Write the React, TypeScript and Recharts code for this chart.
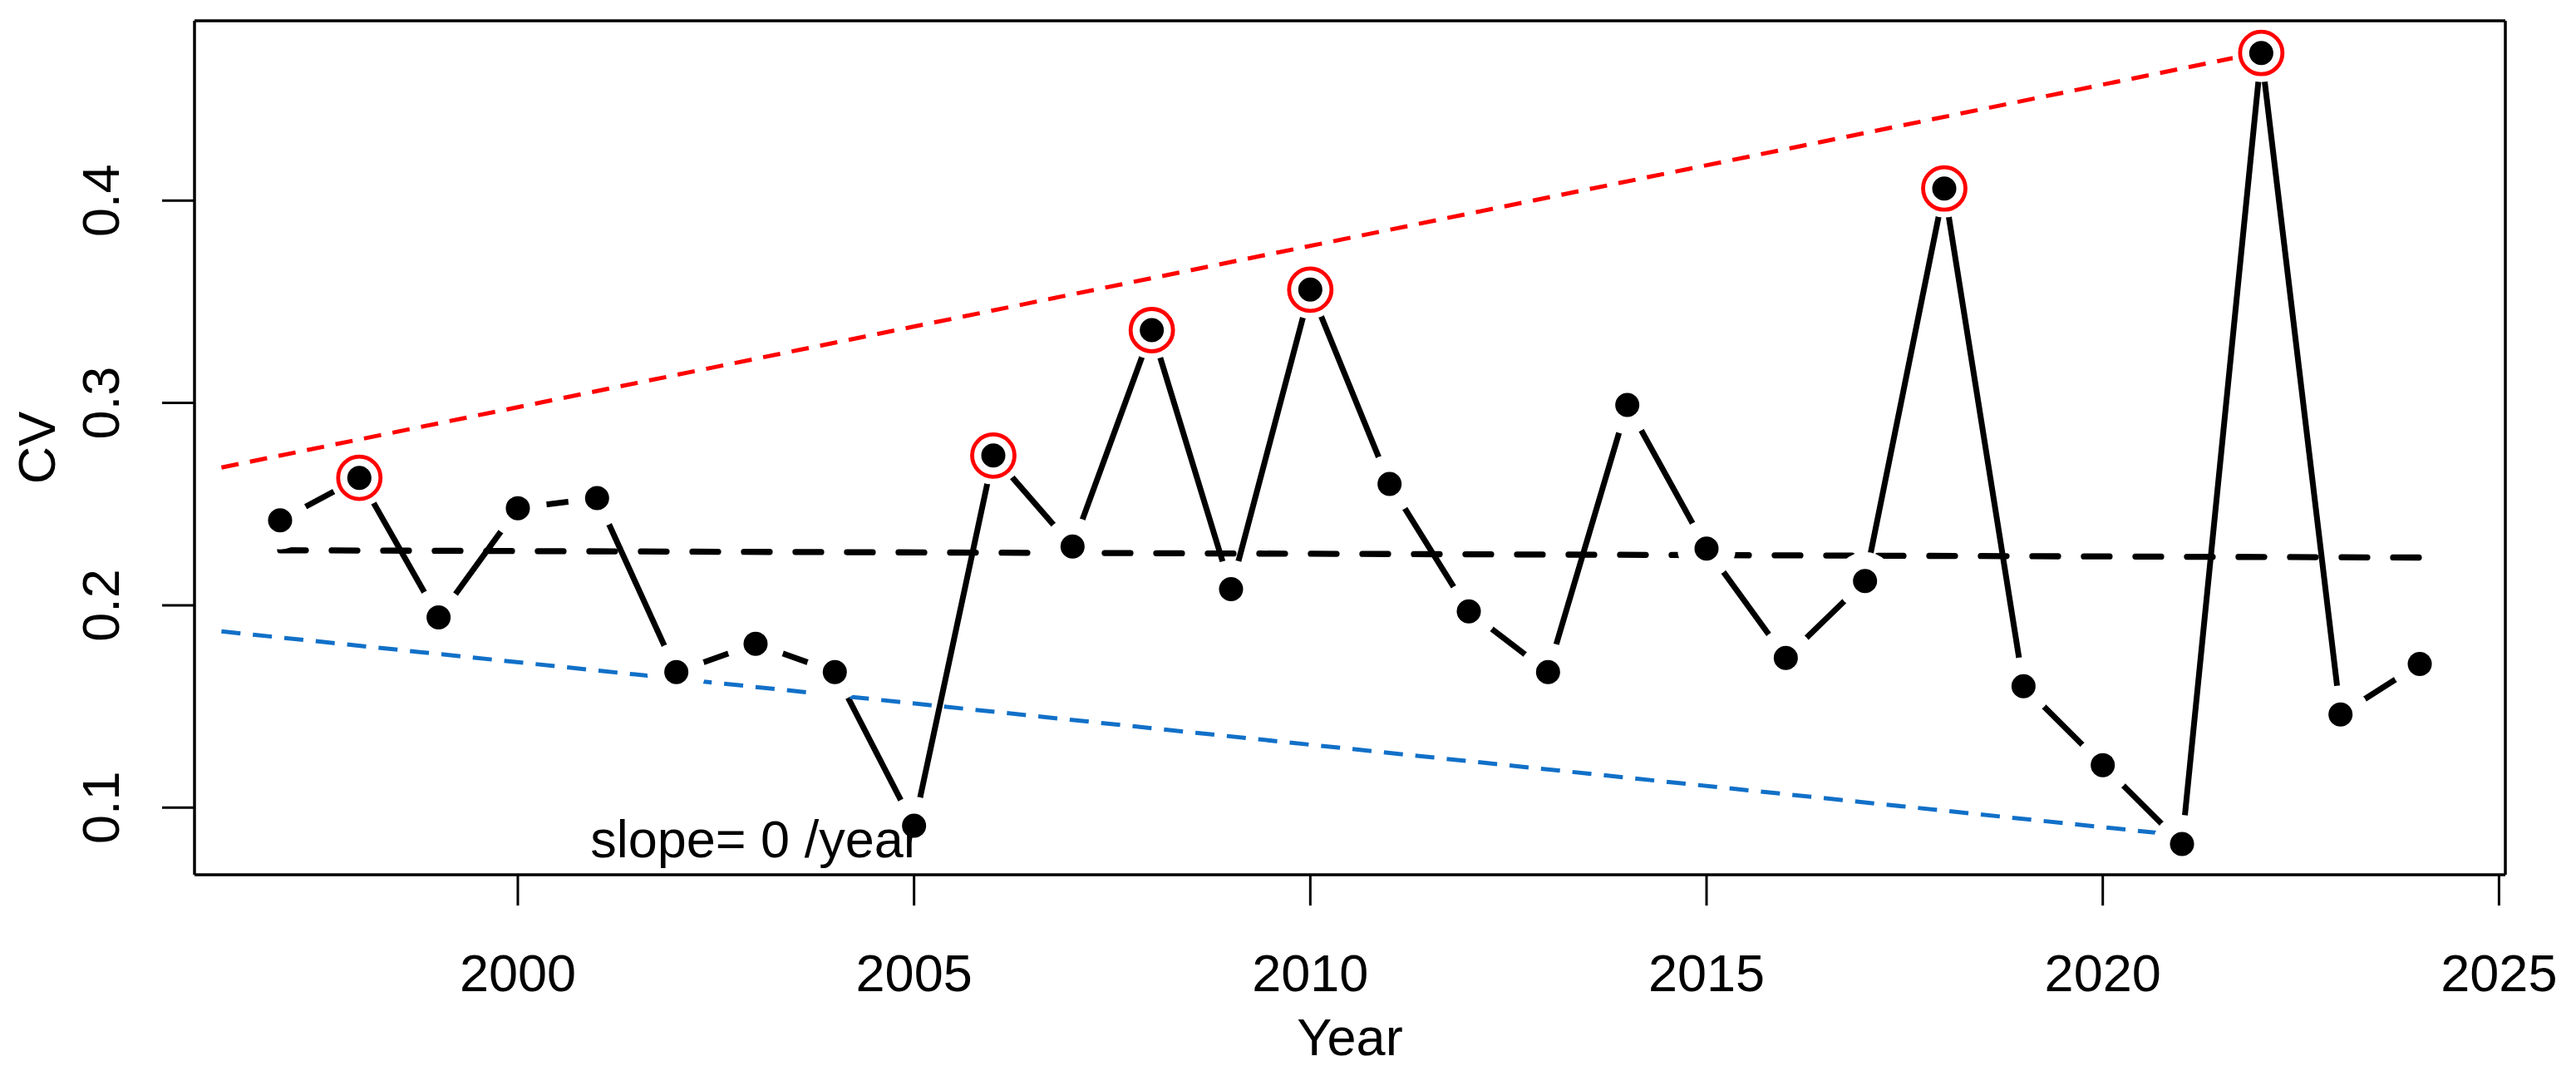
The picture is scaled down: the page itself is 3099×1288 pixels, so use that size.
import React from "react";
import { ComposedChart, Line, XAxis, YAxis, ReferenceDot } from "recharts";

const years = [1997, 1998, 1999, 2000, 2001, 2002, 2003, 2004, 2005, 2006, 2007, 2008, 2009, 2010, 2011, 2012, 2013, 2014, 2015, 2016, 2017, 2018, 2019, 2020, 2021, 2022, 2023, 2024];
const cvValues = [0.242, 0.263, 0.194, 0.248, 0.253, 0.167, 0.181, 0.167, 0.091, 0.274, 0.229, 0.336, 0.208, 0.356, 0.260, 0.197, 0.167, 0.299, 0.228, 0.174, 0.212, 0.406, 0.160, 0.121, 0.082, 0.473, 0.146, 0.171];
const peakYears = [1998, 2006, 2008, 2010, 2018, 2022];

const meanTrendYears = [1997, 2024];
const meanTrendValues = [0.2272, 0.2236];
const upperTrendYears = [1996.26, 2022.15];
const upperTrendValues = [0.2681, 0.4745];
const lowerTrendYears = [1996.26, 2020.84];
const lowerTrendValues = [0.1871, 0.0869];

const xTicks = [2000, 2005, 2010, 2015, 2020, 2025];
const yTicks = [0.1, 0.2, 0.3, 0.4];
const xDomain = [1995.92, 2025.08];
const yDomain = [0.0668, 0.4889];

const slopeText = "slope= 0 /year";
const slopeTextYear = 2003;
const slopeTextValue = 0.0832;

const data = years.map((y, i) => ({ year: y, cv: cvValues[i] }));
const peaks = peakYears.map((y) => ({ year: y, v: cvValues[years.indexOf(y)] }));
const mkLine = (xs: number[], vs: number[]) => xs.map((x, i) => ({ year: x, v: vs[i] }));
const meanLine = mkLine(meanTrendYears, meanTrendValues);
const upperLine = mkLine(upperTrendYears, upperTrendValues);
const lowerLine = mkLine(lowerTrendYears, lowerTrendValues);

const FONT = "'Liberation Sans', Arial, Helvetica, sans-serif";
const FS = 63;

const XTick = (props: any) => {
  const { x, y, payload } = props;
  return (
    <text x={x} y={y + 103} textAnchor="middle" fontFamily={FONT} fontSize={FS} fill="#000">
      {payload.value}
    </text>
  );
};

const YTick = (props: any) => {
  const { x, y, payload } = props;
  const tx = x - 52;
  return (
    <text x={tx} y={y} transform={`rotate(-90 ${tx} ${y})`} textAnchor="middle" fontFamily={FONT} fontSize={FS} fill="#000">
      {Number(payload.value).toFixed(1)}
    </text>
  );
};

const DataDot = (props: any) => {
  const { cx, cy, index } = props;
  if (cx == null || cy == null) return <g key={`d${index}`} />;
  return (
    <g key={`d${index}`}>
      <circle cx={cx} cy={cy} r={35} fill="#fff" stroke="none" />
      <circle cx={cx} cy={cy} r={14.5} fill="#000" stroke="none" />
    </g>
  );
};

const PeakDot = (props: any) => {
  const { cx, cy, index } = props;
  if (cx == null || cy == null) return <g key={`p${index}`} />;
  return <circle key={`p${index}`} cx={cx} cy={cy} r={25.5} fill="none" stroke="#FF0000" strokeWidth={4.8} />;
};

export default function App() {
  return (
    <div style={{ width: 3099, height: 1288, background: "#fff" }}>
      <style>{"body{margin:0;background:#fff}"}</style>
      <ComposedChart
        width={3099}
        height={1288}
        data={data}
        margin={{ top: 24, right: 84, bottom: 235, left: 233 }}
      >
        <XAxis
          xAxisId="b"
          dataKey="year"
          type="number"
          domain={xDomain}
          allowDataOverflow
          ticks={xTicks}
          interval={0}
          height={1}
          tickSize={37}
          tickMargin={0}
          tick={<XTick />}
          axisLine={{ stroke: "#000", strokeWidth: 3.5 }}
          tickLine={{ stroke: "#000", strokeWidth: 3 }}
          label={{
            content: (p: any) => {
              const vb = p.viewBox || {};
              return (
                <text x={vb.x + vb.width / 2} y={vb.y + 217} textAnchor="middle" fontFamily={FONT} fontSize={FS} fill="#000">
                  Year
                </text>
              );
            },
          }}
        />
        <XAxis
          xAxisId="t"
          orientation="top"
          dataKey="year"
          type="number"
          domain={xDomain}
          allowDataOverflow
          height={1}
          tick={false}
          tickLine={false}
          axisLine={{ stroke: "#000", strokeWidth: 3.5 }}
        />
        <YAxis
          yAxisId="l"
          type="number"
          domain={yDomain}
          allowDataOverflow
          ticks={yTicks}
          interval={0}
          width={1}
          tickSize={39}
          tickMargin={0}
          tick={<YTick />}
          axisLine={{ stroke: "#000", strokeWidth: 3.5 }}
          tickLine={{ stroke: "#000", strokeWidth: 3 }}
          label={{
            content: (p: any) => {
              const vb = p.viewBox || {};
              const tx = vb.x + (vb.width || 0) - 168;
              const ty = vb.y + vb.height / 2;
              return (
                <text x={tx} y={ty} transform={`rotate(-90 ${tx} ${ty})`} textAnchor="middle" fontFamily={FONT} fontSize={FS} fill="#000">
                  CV
                </text>
              );
            },
          }}
        />
        <YAxis
          yAxisId="r"
          orientation="right"
          type="number"
          domain={yDomain}
          allowDataOverflow
          width={1}
          tick={false}
          tickLine={false}
          axisLine={{ stroke: "#000", strokeWidth: 3.5 }}
        />
        <Line
          xAxisId="b"
          yAxisId="l"
          dataKey="cv"
          type="linear"
          stroke="#000"
          strokeWidth={7}
          dot={DataDot}
          activeDot={false}
          isAnimationActive={false}
        />
        <Line
          xAxisId="b"
          yAxisId="l"
          data={peaks}
          dataKey="v"
          type="linear"
          stroke="none"
          dot={PeakDot}
          activeDot={false}
          isAnimationActive={false}
        />
        <Line
          xAxisId="b"
          yAxisId="l"
          data={meanLine}
          dataKey="v"
          type="linear"
          stroke="#000"
          strokeWidth={7.3}
          strokeDasharray="31 31"
          strokeLinecap="round"
          dot={false}
          activeDot={false}
          isAnimationActive={false}
        />
        <Line
          xAxisId="b"
          yAxisId="l"
          data={lowerLine}
          dataKey="v"
          type="linear"
          stroke="#1170C8"
          strokeWidth={5}
          strokeDasharray="23 15"
          dot={false}
          activeDot={false}
          isAnimationActive={false}
        />
        <Line
          xAxisId="b"
          yAxisId="l"
          data={upperLine}
          dataKey="v"
          type="linear"
          stroke="#FF0000"
          strokeWidth={5}
          strokeDasharray="21 14"
          dot={false}
          activeDot={false}
          isAnimationActive={false}
        />
        <ReferenceDot
          xAxisId="b"
          yAxisId="l"
          x={slopeTextYear}
          y={slopeTextValue}
          r={0}
          fill="none"
          stroke="none"
          label={{
            content: (p: any) => {
              const vb = p.viewBox || {};
              const cx = vb.x + (vb.width || 0) / 2;
              const cy = vb.y + (vb.height || 0) / 2;
              return (
                <text x={cx} y={cy + 19} textAnchor="middle" fontFamily={FONT} fontSize={FS} fill="#000">
                  {slopeText}
                </text>
              );
            },
          }}
        />
      </ComposedChart>
    </div>
  );
}
